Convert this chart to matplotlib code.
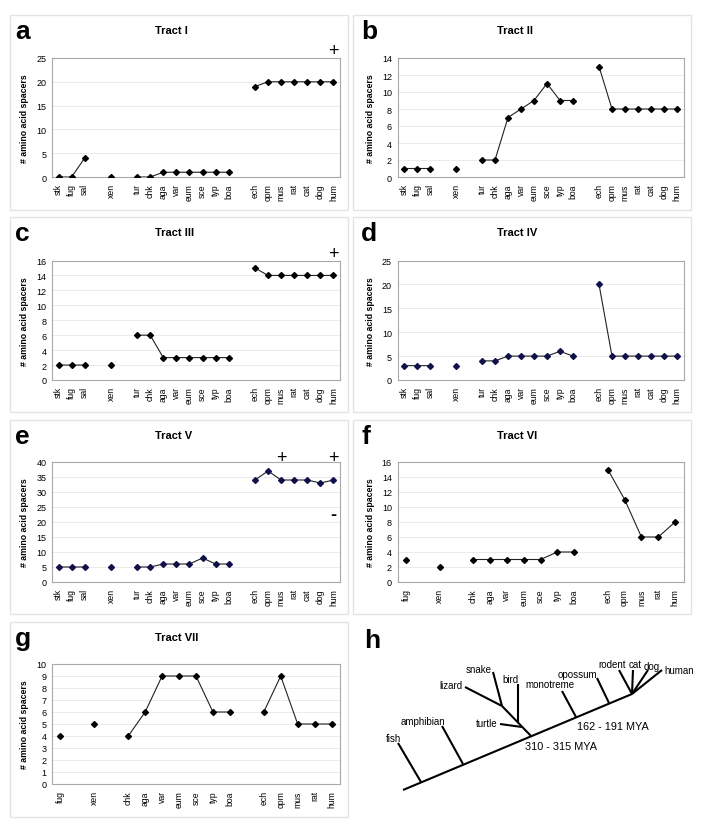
import numpy as np
import matplotlib
matplotlib.use("Agg")
import matplotlib.pyplot as plt
from matplotlib.patches import Rectangle
from matplotlib.transforms import blended_transform_factory

plt.rcParams['font.family'] = ['Liberation Sans', 'DejaVu Sans']

N = np.nan
cats_full = ['stk', 'fug', 'sal', '', 'xen', '', 'tur', 'chk', 'aga', 'var', 'eum', 'sce',
             'typ', 'boa', '', 'ech', 'opm', 'mus', 'rat', 'cat', 'dog', 'hum']
cats_short = ['fug', '', 'xen', '', 'chk', 'aga', 'var', 'eum', 'sce', 'typ', 'boa', '',
              'ech', 'opm', 'mus', 'rat', 'hum']

tract1 = [0, 0, 4, N, 0, N, 0, 0, 1, 1, 1, 1, 1, 1, N, 19, 20, 20, 20, 20, 20, 20]
tract2 = [1, 1, 1, N, 1, N, 2, 2, 7, 8, 9, 11, 9, 9, N, 13, 8, 8, 8, 8, 8, 8]
tract3 = [2, 2, 2, N, 2, N, 6, 6, 3, 3, 3, 3, 3, 3, N, 15, 14, 14, 14, 14, 14, 14]
tract4 = [3, 3, 3, N, 3, N, 4, 4, 5, 5, 5, 5, 6, 5, N, 20, 5, 5, 5, 5, 5, 5]
tract5 = [5, 5, 5, N, 5, N, 5, 5, 6, 6, 6, 8, 6, 6, N, 34, 37, 34, 34, 34, 33, 34]
tract6 = [3, N, 2, N, 3, 3, 3, 3, 3, 4, 4, N, 15, 11, 6, 6, 8]
tract7 = [4, N, 5, N, 4, 6, 9, 9, 9, 6, 6, N, 6, 9, 5, 5, 5]

titles = ['Tract I', 'Tract II', 'Tract III', 'Tract IV', 'Tract V', 'Tract VI', 'Tract VII']
letters = ['a', 'b', 'c', 'd', 'e', 'f', 'g']
ymax = [25, 14, 16, 25, 40, 16, 10]
ystep = [5, 2, 2, 5, 5, 2, 1]

# tree (panel h): node positions in panel pixel space
tree_backbone = [(403, 791), (632, 695)]
tree_branches = [((421, 783), (398, 744)), ((463, 765), (442, 727)), ((531, 737), (502, 707)),
                 ((502, 707), (465, 688)), ((502, 707), (493, 673)), ((518, 723), (518, 685)),
                 ((522, 728), (500, 725)), ((576, 718), (562, 692)), ((609, 704), (597, 679)),
                 ((632, 695), (619, 671)), ((632, 695), (633, 671)), ((632, 695), (648, 671)),
                 ((632, 695), (662, 671))]
tree_labels = ['fish', 'amphibian', 'lizard', 'snake', 'bird', 'turtle', 'monotreme',
               'opossum', 'rodent', 'cat', 'dog', 'human']
tree_label_pos = [(393, 739), (423, 722), (451, 686), (479, 670), (510, 680), (487, 724),
                  (550, 685), (577, 675), (612, 665), (635, 665), (652, 667), (679, 671)]
mya_labels = ['162 - 191 MYA', '310 - 315 MYA']
mya_pos = [(613, 727), (561, 747)]

W, H = 702, 829
fig = plt.figure(figsize=(W / 100, H / 100), dpi=100)


def rect(l, t, r, b):
    return [l / W, 1 - b / H, (r - l) / W, (b - t) / H]


col_plot = [(52, 340), (397.5, 683.5)]
row_plot = [(59, 178), (261.5, 381), (463, 583), (665, 785)]
col_box = [(10, 348), (353, 691)]
row_box = [(16, 211), (218, 413), (421, 615), (623, 818)]
title_x = [155, 497]

datasets = [tract1, tract2, tract3, tract4, tract5, tract6, tract7]
cat_sets = [cats_full] * 5 + [cats_short] * 2
mcolors = ['black', 'black', 'black', '#10104a', '#10104a', 'black', 'black']

for i, (vals, cats) in enumerate(zip(datasets, cat_sets)):
    r, c = divmod(i, 2)
    bl, br = col_box[c]
    bt, bb = row_box[r]
    fig.patches.append(Rectangle((bl / W, 1 - bb / H), (br - bl) / W, (bb - bt) / H,
                                 transform=fig.transFigure, fill=False,
                                 edgecolor='#e4e4e4', linewidth=1.0))
    l, rr = col_plot[c]
    t, b = row_plot[r]
    ax = fig.add_axes(rect(l, t, rr, b))
    x = np.arange(len(cats))
    ax.plot(x, vals, color='#222222', lw=0.8, marker='D', ms=3.0,
            mfc=mcolors[i], mec=mcolors[i], zorder=3)
    ax.set_xlim(-0.5, len(cats) - 0.5)
    ax.set_ylim(0, ymax[i])
    ax.set_yticks(np.arange(0, ymax[i] + 0.1, ystep[i]))
    ax.set_xticks(x)
    ax.set_xticklabels(cats, rotation=90, fontsize=6.2)
    ax.tick_params(axis='y', length=0, labelsize=6.5, pad=4)
    ax.tick_params(axis='x', length=0, pad=4.5)
    ax.yaxis.grid(True, color='#e6e6e6', lw=0.6)
    ax.set_axisbelow(True)
    for s in ax.spines.values():
        s.set_color('#a8a8a8')
        s.set_linewidth(0.8)
    ax.text(-27 / (rr - l), 0.5, '# amino acid spacers', transform=ax.transAxes,
            rotation=90, ha='center', va='center', fontsize=6.3, fontweight='bold')
    fig.text(title_x[c] / W, 1 - (bt + 15) / H, titles[i], ha='left', va='center',
             fontsize=8, fontweight='bold')
    fig.text((bl + 5 + (3 if c else 0)) / W, 1 - (bt + 23) / H, letters[i], ha='left',
             va='baseline', fontsize=19, fontweight='bold')
    tr = blended_transform_factory(ax.transData, ax.transAxes)
    if i in (0, 2):
        ax.text(21, 1.06, '+', transform=tr, ha='center', va='center', fontsize=13)
    if i == 4:
        ax.text(17, 1.035, '+', transform=tr, ha='center', va='center', fontsize=13)
        ax.text(21, 1.035, '+', transform=tr, ha='center', va='center', fontsize=13)
        ax.text(21, 22.5, '-', ha='center', va='center', fontsize=13, fontweight='bold')

# panel h: tree
axh = fig.add_axes(rect(353, 623, 702, 818))
axh.set_xlim(353, 702)
axh.set_ylim(818, 623)
axh.axis('off')
(x0, y0), (x1, y1) = tree_backbone
axh.plot([x0, x1], [y0, y1], color='black', lw=1.5, solid_capstyle='butt')
for (p, q) in tree_branches:
    axh.plot([p[0], q[0]], [p[1], q[1]], color='black', lw=1.5, solid_capstyle='butt')
for lab, (px, py) in zip(tree_labels, tree_label_pos):
    axh.text(px, py, lab, ha='center', va='center', fontsize=7)
for lab, (px, py) in zip(mya_labels, mya_pos):
    axh.text(px, py, lab, ha='center', va='center', fontsize=7.8)
fig.text(364 / W, 1 - 648 / H, 'h', ha='left', va='baseline', fontsize=19, fontweight='bold')

fig.savefig('out.png', dpi=100, facecolor='white')
